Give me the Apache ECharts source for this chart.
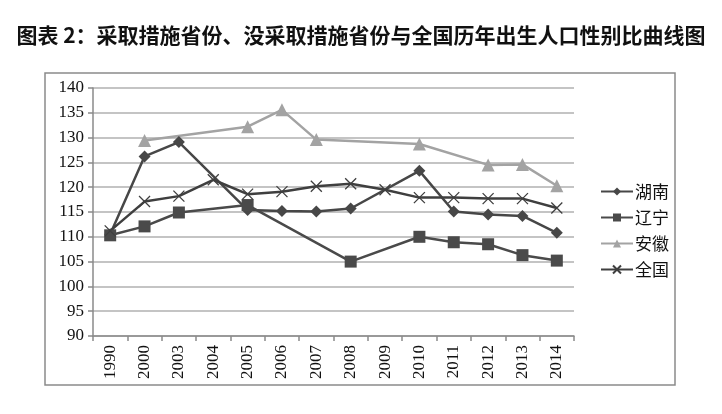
<!DOCTYPE html>
<html><head><meta charset="utf-8">
<script src="https://cdn.jsdelivr.net/npm/echarts@6/dist/echarts.min.js"></script>
<style>html,body{margin:0;padding:0;background:#fff}#c{width:722px;height:414px}</style>
</head><body><div id="c"></div>
<script>
const categories = ['1990','2000','2003','2004','2005','2006','2007','2008','2009','2010','2011','2012','2013','2014'];
const hunan    = [110.5, 126.2, 129.1, null, 115.4, 115.2, 115.1, 115.7, null, 123.3, 115.1, 114.5, 114.2, 110.8];
const liaoning = [110.3, 112.1, 114.9, null, 116.4, null, null, 105.0, null, 110.0, 108.9, 108.5, 106.3, 105.2];
const anhui    = [null, 129.4, null, null, 132.2, 135.6, 129.6, null, null, 128.7, null, 124.5, 124.6, 120.3];
const quanguo  = [111.2, 117.1, 118.2, 121.5, 118.6, 119.1, 120.2, 120.7, 119.5, 117.9, 117.9, 117.7, 117.7, 115.8];
const yTicks = {min: 90, max: 140, interval: 5};
const titleText = '图表 2：采取措施省份、没采取措施省份与全国历年出生人口性别比曲线图';

const chart = echarts.init(document.getElementById('c'), null, {renderer: 'canvas'});
const serif = '"Liberation Serif", "Noto Sans CJK SC", serif';
function mk(name, data, color, symbol, size, extra) {
  return Object.assign({
    name, type: 'line', data, connectNulls: true,
    symbol, symbolSize: size, showAllSymbol: true,
    lineStyle: {color, width: 2.5},
    itemStyle: {color},
    emphasis: {disabled: true},
    animation: false
  }, extra || {});
}
chart.setOption({
  animation: false,
  title: {
    text: titleText, left: 'center', top: 20,
    textStyle: {fontFamily: '"Noto Sans CJK SC"', fontSize: 21, fontWeight: 'bold', color: '#111'}
  },
  graphic: [{
    type: 'rect', shape: {x: 45, y: 73, width: 630, height: 312},
    style: {fill: 'none', stroke: '#8a8a8a', lineWidth: 1.5}, silent: true, z: -1
  }],
  grid: {left: 93, right: 148, top: 88, bottom: 78, containLabel: false},
  legend: {
    orient: 'vertical', left: 595, top: 178, itemGap: 9, itemWidth: 32, itemHeight: 10,
    textStyle: {fontFamily: '"Noto Sans CJK SC"', fontSize: 17, color: '#111', padding: [0, 0, 0, -3]},
    data: ['湖南','辽宁','安徽','全国']
  },
  xAxis: {
    type: 'category', data: categories, boundaryGap: true,
    axisLine: {lineStyle: {color: '#8a8a8a', width: 1.5}},
    axisTick: {show: true, alignWithLabel: false, length: 5, lineStyle: {color: '#8a8a8a', width: 1.5}},
    axisLabel: {rotate: 90, fontFamily: serif, fontSize: 17, color: '#111', margin: 9, interval: 0}
  },
  yAxis: {
    type: 'value', min: yTicks.min, max: yTicks.max, interval: yTicks.interval,
    axisLine: {show: true, lineStyle: {color: '#8a8a8a', width: 1.5}},
    axisTick: {show: true, length: 5, lineStyle: {color: '#8a8a8a', width: 1.5}},
    axisLabel: {fontFamily: serif, fontSize: 17, color: '#111', margin: 9},
    splitLine: {lineStyle: {color: '#b0b0b0', width: 1.5}}
  },
  series: [
    mk('湖南', hunan, '#474747', 'diamond', 12),
    mk('辽宁', liaoning, '#4a4a4a', 'rect', 12),
    mk('安徽', anhui, '#a3a3a3', 'triangle', 13),
    mk('全国', quanguo, '#3f3f3f', 'path://M0,0L10,10M10,0L0,10', 11,
      {itemStyle: {color: '#3f3f3f', borderColor: '#3f3f3f', borderWidth: 1.3}})
  ]
});
</script></body></html>
